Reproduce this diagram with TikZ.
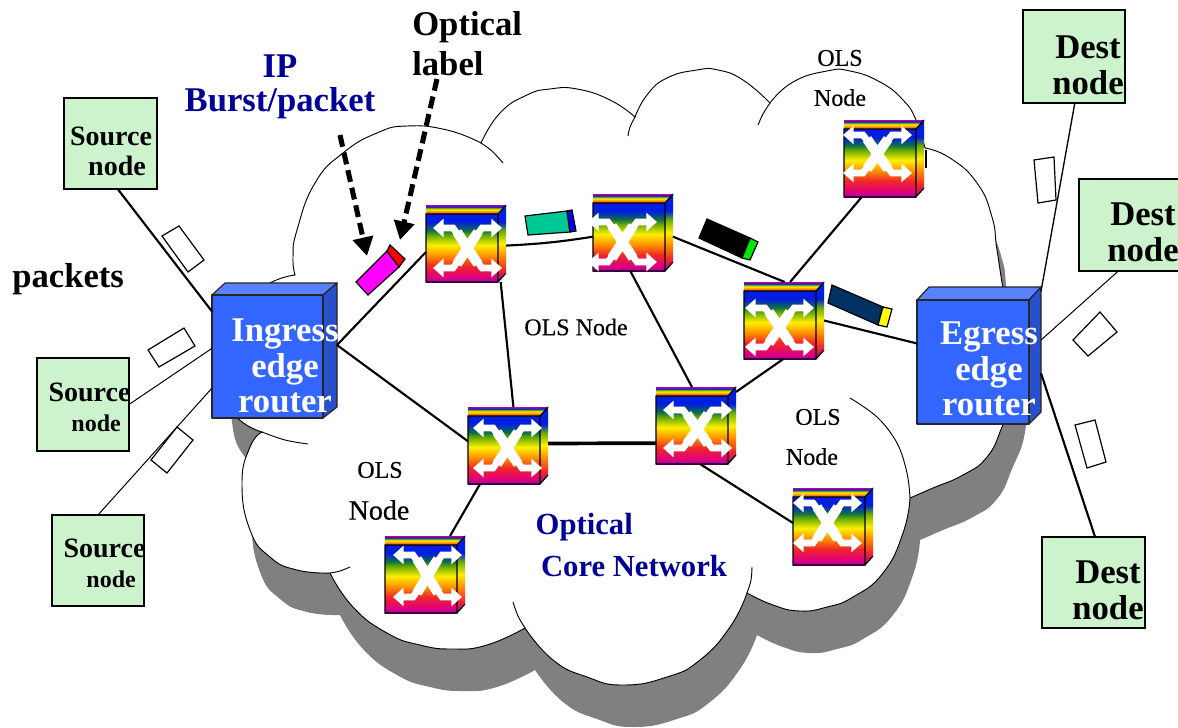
\documentclass[tikz,border=0pt]{standalone}
\usepackage{fontspec}
\setmainfont{Liberation Serif}
\newfontfamily\olsfont[FakeBold=0.4]{Liberation Serif}
\usetikzlibrary{arrows.meta}
\definecolor{swA}{RGB}{170,0,170}
\definecolor{swB}{RGB}{225,0,120}
\definecolor{swC}{RGB}{240,40,40}
\definecolor{swD}{RGB}{255,140,0}
\definecolor{swE}{RGB}{255,240,0}
\definecolor{swF}{RGB}{110,175,0}
\definecolor{swG}{RGB}{15,110,70}
\definecolor{swH}{RGB}{0,30,225}
\definecolor{routerfront}{RGB}{51,102,255}
\definecolor{routertop}{RGB}{88,130,255}
\definecolor{routerside}{RGB}{40,80,205}
\definecolor{hostgreen}{RGB}{204,243,204}
\definecolor{labelblue}{RGB}{0,0,150}
\definecolor{cloudgray}{RGB}{128,128,128}
\definecolor{pkteal}{RGB}{0,200,150}
\definecolor{pknavy}{RGB}{0,50,100}
\definecolor{pkgreen}{RGB}{0,230,0}
\definecolor{pkmagenta}{RGB}{255,0,255}
\definecolor{pkred}{RGB}{255,0,0}
\definecolor{pkblue}{RGB}{0,0,255}
\definecolor{pkyellow}{RGB}{255,255,0}
\pgfdeclareverticalshading{swfront}{100bp}{color(0bp)=(swA);color(25bp)=(swA);color(29bp)=(swB);color(37bp)=(swC);color(44bp)=(swD);color(52bp)=(swE);color(59bp)=(swF);color(63bp)=(swG);color(69bp)=(swH);color(75bp)=(swH);color(100bp)=(swH)}
\pgfdeclareverticalshading{swside}{100bp}{color(0bp)=(swA);color(25bp)=(swA);color(33bp)=(swC);color(42bp)=(swD);color(50bp)=(swE);color(58bp)=(swF);color(64bp)=(swH);color(75bp)=(swH);color(100bp)=(swH)}
\pgfdeclareverticalshading{swtop}{100bp}{color(0bp)=(swC);color(25bp)=(swC);color(38bp)=(swD);color(50bp)=(swE);color(58bp)=(swF);color(65bp)=(swH);color(72bp)=(swA);color(100bp)=(swA)}
\tikzset{
  swbox/.style={rectangle,inner sep=0pt,outer sep=0pt,minimum width=60pt,minimum height=57.75pt},
  swarrow/.style={white,line width=5pt,line join=miter,{Triangle[length=8pt,width=13.5pt]}-{Triangle[length=8pt,width=13.5pt]}},
  swcross/.style={white,line width=7.5pt},
  hostbox/.style={rectangle,draw=black,line width=2pt,fill=hostgreen,inner sep=0pt,outer sep=0pt},
  routerbox/.style={rectangle,inner sep=0pt,outer sep=0pt},
  routerface/.style={draw=black!85,line width=.9pt,line join=round},
  link/.style={draw=black,line width=1.6pt},
  thickline/.style={draw=black,line width=2.8pt},
  thinline/.style={draw=black,line width=.75pt},
  pulse/.style={line width=3.8pt,dash pattern=on 9pt off 4.5pt,-{Triangle[length=14pt,width=15pt]}},
  cloudedge/.style={draw=black,line width=.7pt},
  pkt/.style={draw=black,line width=.9pt},
  hosttext/.style={font=\fontsize{21}{22.5}\selectfont\bfseries,align=center,inner sep=0pt},
  desttext/.style={font=\fontsize{26}{27}\selectfont\bfseries,align=center,inner sep=0pt},
  bigtext/.style={font=\fontsize{26}{26}\selectfont\bfseries,align=center,inner sep=0pt},
  routertext/.style={font=\fontsize{26}{26.5}\selectfont\bfseries,text=white,align=center,inner sep=0pt},
  olstext/.style={font=\fontsize{18}{30}\selectfont\olsfont,align=center,inner sep=0pt},
  coretext/.style={font=\fontsize{23}{31.5}\selectfont\bfseries,text=labelblue,align=left,inner sep=0pt},
}
% name, left, top, arrow left tip, arrow top y, arrow bottom y (the last three relative)
\newcommand{\swnode}[6]{%
  \node[swbox] (#1) at ({#2+40},{#3+38.5}) {};
  \begin{scope}[shift={(#2,#3)}]
    \shade[shading=swside] (72,9) -- (80,0) -- (80,68) -- (72,77) -- cycle;
    \shade[shading=swtop] (0,0) -- (80,0) -- (72,9) -- (0,9) -- cycle;
    \shade[shading=swfront] (0,9) rectangle (72,77);
    \draw[black,line width=.9pt] (0,9) rectangle (72,77) (72,9) -- (80,0) (72,77) -- (80,68);
    \draw[swarrow] ({#4},#5) -- ({#4+20},#5) -- ({#4+49},#6) -- ({#4+69},#6);
    \draw[swarrow] ({#4},#6) -- ({#4+20},#6) -- ({#4+49},#5) -- ({#4+69},#5);
    \draw[swcross] ({#4+24},{#5+4}) -- ({#4+45},{#6-4}) ({#4+24},{#6-4}) -- ({#4+45},{#5+4});
  \end{scope}}
\newcommand{\lobes}{%
  plot[smooth,tension=.85] coordinates {(295,275)(293,257)(297,230)(315,183)(343,153)(377,133)(407,126)(447,130)(481,143)}
  -- plot[smooth,tension=.85] coordinates {(481,143)(500,113)(527,95)(550,89)(577,89)(610,100)(635,117)}
  -- plot[smooth,tension=.85] coordinates {(635,117)(647,95)(667,78)(697,70)(718,70)(743,80)(770,103)}
  -- plot[smooth,tension=.85] coordinates {(770,103)(793,82)(827,71)(850,71)(880,82)(903,100)(916,120)(925,148)}
  -- plot[smooth,tension=.85] coordinates {(925,148)(950,158)(977,183)(992,217)(997,250)(1005,300)(1015,350)(1015,390)(1002,427)(987,457)(963,475)(933,488)(910,498)}
  -- plot[smooth,tension=.85] coordinates {(910,498)(903,533)(883,573)(853,597)(827,607)(800,611)(773,605)(747,593)}
  -- plot[smooth,tension=.85] coordinates {(747,593)(730,627)(700,660)(667,677)(623,685)(587,677)(553,660)(525,628)}
  -- plot[smooth,tension=.85] coordinates {(525,628)(487,645)(453,649)(420,645)(387,633)(353,607)(330,573)}
  -- plot[smooth,tension=.85] coordinates {(330,573)(297,570)(270,557)(250,530)(242,483)(250,447)(262,432)}
  -- plot[smooth,tension=.85] coordinates {(262,432)(235,415)(222,380)(225,340)(245,300)(272,282)(295,275)}
  -- cycle}
\begin{document}
\begin{tikzpicture}[x=.75pt,y=-.75pt]
\useasboundingbox (0,0) rectangle (1178,728);
% cloud
\begin{scope}[shift={(10,42)}]
  \fill[cloudgray] \lobes;
\end{scope}
\path[fill=white,cloudedge] \lobes;
\draw[cloudedge] plot[smooth,tension=.6] coordinates {(481,143)(492,151)(503,163)};
\draw[cloudedge] plot[smooth,tension=.6] coordinates {(628,136)(630,127)(635,117)};
\draw[cloudedge] plot[smooth,tension=.6] coordinates {(758,125)(763,114)(770,103)};
\draw[cloudedge,line width=1.4pt] (926,150) -- (926,168);
\draw[cloudedge] plot[smooth,tension=.6] coordinates {(850,398)(877,417)(897,443)(907,473)(910,498)};
\draw[cloudedge] plot[smooth,tension=.6] coordinates {(752,567)(751,580)(747,593)};
\draw[cloudedge] plot[smooth,tension=.6] coordinates {(513,602)(518,616)(525,628)};
\draw[cloudedge] plot[smooth,tension=.6] coordinates {(350,567)(340,571)(330,573)};
\draw[cloudedge] plot[smooth,tension=.6] coordinates {(262,432)(285,440)(308,444)};
% hosts
\node[hostbox,minimum width=69.75pt,minimum height=68.25pt] (srcA) at (110.5,143.5) {};
\node[hostbox,minimum width=69pt,minimum height=69.75pt] (srcB) at (83,404.5) {};
\node[hostbox,minimum width=69pt,minimum height=68.25pt] (srcC) at (98,560.5) {};
\node[hostbox,minimum width=76.5pt,minimum height=69.75pt] (dstA) at (1074,56.5) {};
\node[hostbox,minimum width=75pt,minimum height=69pt] (dstB) at (1129,225) {};
\node[hostbox,minimum width=77.25pt,minimum height=68.25pt] (dstC) at (1093.5,582.5) {};
% routers
\node[routerbox,minimum width=93.75pt,minimum height=101.25pt] (ingress) at (274.5,350.5) {};
\draw[routerface,fill=routertop] (212,295) -- (225,283) -- (337,283) -- (323,295) -- cycle;
\draw[routerface,fill=routerside] (323,295) -- (337,283) -- (337,407) -- (323,418) -- cycle;
\draw[routerface,fill=routerfront] (212,295) rectangle (323,418);
\node[routerbox,minimum width=93pt,minimum height=102.75pt] (egress) at (979,355.5) {};
\draw[routerface,fill=routertop] (917,300) -- (929,287) -- (1041,287) -- (1029,300) -- cycle;
\draw[routerface,fill=routerside] (1029,300) -- (1041,287) -- (1041,412) -- (1029,424) -- cycle;
\draw[routerface,fill=routerfront] (917,300) rectangle (1029,424);
% switches
\swnode{s1}{426}{205}{7}{23}{63}
\swnode{s2}{593}{194}{-5}{28}{68}
\swnode{s3}{744}{282}{1}{26}{65}
\swnode{s4}{844}{120}{-1}{15}{53}
\swnode{s5}{468}{407}{5}{21}{61}
\swnode{s6}{385}{536}{8}{19}{61}
\swnode{s7}{656}{387}{7}{23}{61}
\swnode{s8}{793}{488}{0}{15}{55}
% connectors
\draw[link] (ingress.5) -- (s1.192);
\draw[link] (ingress.5) -- (s5.174);
\draw[link] (s1.-3.6) to[bend right=3] (s2.186.4);
\draw[link] (s1.-48.5) -- (s5.82.6);
\draw[link] (s2.-6) -- (s3.89);
\draw[link] (s2.-94) -- (s7.96);
\draw[link] (s3.81) -- (s4.-120.8);
\draw[link] (s3.-91) -- (s7.40);
\draw[link] (s3.0) -- (egress.169.5);
\draw[thickline] (s5.3.6) -- (s7.204.8);
\draw[link] (s5.-126) -- (s6.57);
\draw[link] (s7.-84) -- (s8.175);
\draw[link] (srcA.-81) -- (ingress.148.4);
\draw[thinline] (srcB.0) -- (ingress.178.6);
\draw[thinline] (srcC.90) -- (ingress.211.6);
\draw[draw=black,line width=1pt] (dstA.-89) -- (egress.46);
\draw[thinline] (dstB.-103) -- (egress.14);
\draw[link] (dstC.88) -- (egress.-16);
% packets on the left and right
\draw[pkt] (162,236) -- (179,226) -- (204,260) -- (188,272) -- cycle;
\draw[pkt] (148,350) -- (184,328) -- (195,346) -- (159,367) -- cycle;
\draw[pkt] (151,460) -- (177,427) -- (193,440) -- (167,473) -- cycle;
\draw[pkt] (1034,160) -- (1054,157) -- (1056,200) -- (1038,203) -- cycle;
\draw[pkt] (1073,340) -- (1100,312) -- (1117,332) -- (1088,356) -- cycle;
\draw[pkt] (1075,425) -- (1095,420) -- (1106,462) -- (1087,468) -- cycle;
% coloured packets
\draw[pkt,fill=pkmagenta] (356,282) -- (387,251) -- (399,267) -- (368,295) -- cycle;
\draw[pkt,fill=pkred] (387,251) -- (390,245) -- (405,259) -- (399,267) -- cycle;
\draw[pkt,fill=pkteal] (525,216) -- (567,211) -- (570,232) -- (528,235) -- cycle;
\draw[pkt,fill=pkblue] (567,211) -- (572,210) -- (576,231) -- (570,232) -- cycle;
\draw[pkt,fill=black] (707,219) -- (750,238) -- (742,258) -- (699,238) -- cycle;
\draw[pkt,fill=pkgreen] (750,238) -- (758,242) -- (750,260) -- (742,258) -- cycle;
\draw[pkt,fill=pknavy] (832,285) -- (883,307) -- (878,325) -- (828,303) -- cycle;
\draw[pkt,fill=pkyellow] (883,307) -- (892,309) -- (887,327) -- (878,325) -- cycle;
% dashed pointers
\coordinate (ipfrom) at (340,135);
\coordinate (ipto) at (367,256);
\coordinate (labfrom) at (437,79);
\coordinate (labto) at (400,240);
\draw[pulse] (ipfrom) -- (ipto);
\draw[pulse] (labfrom) -- (labto);
% text
\node[bigtext,text=labelblue] (tIP) at (280,87) {IP\\Burst/packet};
\node[bigtext,anchor=west,align=left,font=\fontsize{26}{30}\selectfont\bfseries] (tOpt) at (412,44) {Optical\\label};
\node[bigtext,anchor=west] (tPk) at (12,279) {packets};
\node[routertext] (tIn) at (285,366) {Ingress\\edge\\router};
\node[routertext] (tEg) at (989,369) {Egress\\edge\\router};
\node[hosttext] (tSA) at (111,151) {Source\\\hspace*{9pt}node};
\node[hosttext] (tSB) at (89.5,407) {Source\\\hspace*{10pt}{\fontsize{18}{20}\selectfont node}};
\node[hosttext] (tSC) at (104.5,563) {Source\\\hspace*{10pt}{\fontsize{18}{20}\selectfont node}};
\node[desttext] (tDA) at (1088,65) {Dest\\node};
\node[desttext] (tDB) at (1143,232) {Dest\\node};
\node[desttext] (tDC) at (1108,590) {Dest\\node};
\node[olstext] (tO1) at (840,78) {OLS\\Node};
\node[olstext] (tO2) at (576,327) {OLS Node};
\node[olstext] (tO3) at (812,437) {\hspace*{9pt}OLS\\Node};
\node[olstext] (tO4) at (380,470) {OLS};
\node[olstext,font=\fontsize{21}{30}\selectfont\olsfont] (tO5) at (379,510) {Node};
\node[coretext] (tCore) at (634,545) {\hspace*{-4pt}Optical\\Core Network};
\end{tikzpicture}
\end{document}
